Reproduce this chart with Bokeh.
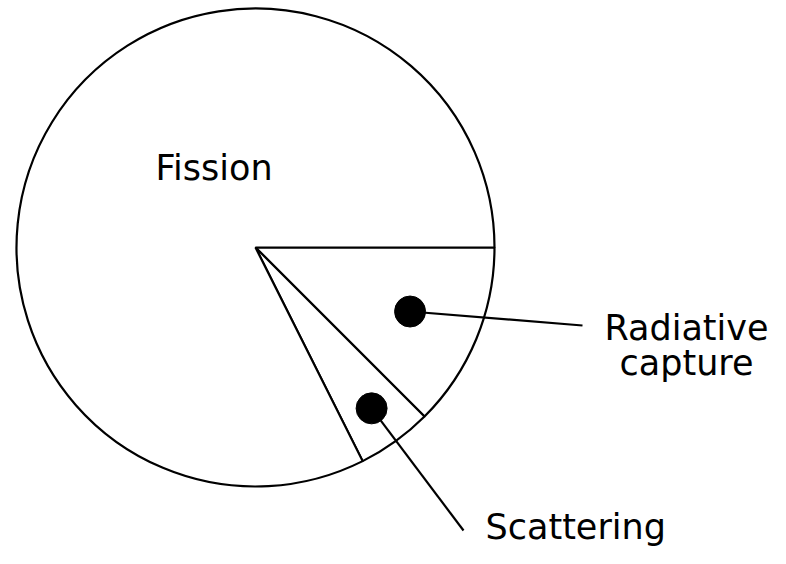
import numpy as np
from bokeh.plotting import figure
from bokeh.models import Range1d
from bokeh.core.properties import value
from bokeh.embed import file_html
from bokeh.resources import INLINE

# Data
categories = ["Radiative capture", "Scattering", "Fission"]
shares = [12.5, 5.1, 82.4]          # percent of interactions
label_lines = [["Radiative", "capture"], ["Scattering"], ["Fission"]]

# Layout (picture pixels, y measured downward)
W, H = 770, 548
cx, cy_s, R = 255, 247, 239
dot_frac = [0.70, 0.83, None]
leader_end = [(582, 325), (463, 530), None]
label_anchor = [(686, [340, 375], "center"), (485, [539], "left"), (155, [180], "left")]
baseline_fix = 13
font_px = "35px"

def Y(ys):
    return H - ys

p = figure(width=W, height=H, output_backend="svg", toolbar_location=None,
           x_range=Range1d(0, W), y_range=Range1d(0, H),
           min_border=0, x_axis_location=None, y_axis_location=None)
p.outline_line_color = None
p.grid.visible = False
p.background_fill_color = "white"
p.border_fill_color = "white"

cy = Y(cy_s)
ang = np.cumsum([0] + shares) / 100.0 * 2 * np.pi
starts = -ang[:-1]
ends = -ang[1:]
p.wedge(x=[cx] * 3, y=[cy] * 3, radius=R, start_angle=list(starts), end_angle=list(ends),
        direction="clock", fill_color="white", line_color="black", line_width=2.2)

font = value("DejaVu Sans")
for i, cat in enumerate(categories):
    mid = -(ang[i] + ang[i + 1]) / 2
    if dot_frac[i] is not None:
        dx = cx + dot_frac[i] * R * np.cos(mid)
        dy = cy + dot_frac[i] * R * np.sin(mid)
        ex, ey = leader_end[i]
        p.line([dx, ex], [dy, Y(ey)], line_color="black", line_width=2.2)
        p.scatter([dx], [dy], size=31, marker="circle", fill_color="black", line_color="black")
    lx, lys, align = label_anchor[i]
    for txt, ly in zip(label_lines[i], lys):
        p.text(x=[lx], y=[Y(ly - baseline_fix)], text=[txt], text_font=font, text_font_size=font_px,
               text_align=align, text_baseline="alphabetic", text_color="black")

open("out.html", "w").write(file_html(p, INLINE))
